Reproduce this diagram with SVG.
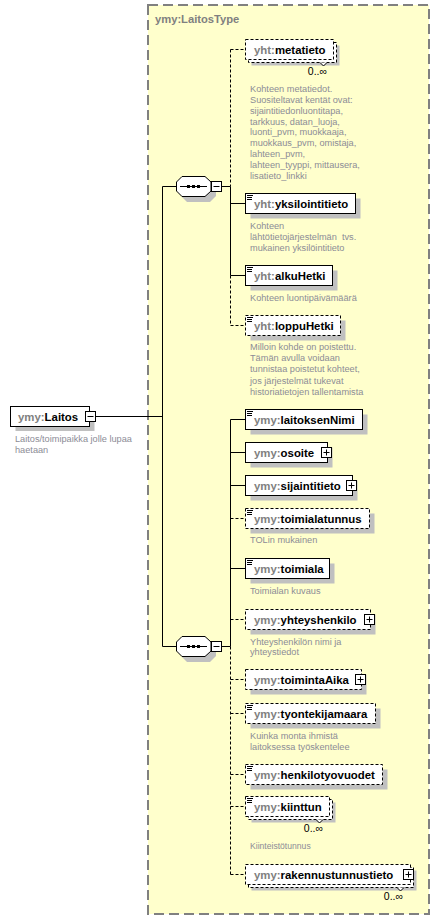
<svg xmlns="http://www.w3.org/2000/svg" width="440" height="921" viewBox="0 0 440 921">
<style>
.bg{fill:#fff}
.frame{fill:#ffffcc;stroke:#808080;stroke-width:2;stroke-dasharray:10,5}
.box{fill:#fff;stroke:#000;stroke-width:1}
.opt{stroke-dasharray:3,2}
.sh{fill:#c0c0c0}
.ln{stroke:#000;stroke-width:1;fill:none}
.dl{stroke:#000;stroke-width:1;fill:none;stroke-dasharray:3,2}
.ico{stroke:#000;stroke-width:1;fill:none}
.nm{font-family:"Liberation Sans",Arial,sans-serif;font-size:11.4px;font-weight:bold;fill:#000}
.pf{fill:#808080}
.ttl{font-family:"Liberation Sans",Arial,sans-serif;font-size:11.2px;font-weight:bold;fill:#808080}
.ann{font-family:"Liberation Sans",Arial,sans-serif;font-size:9.2px;fill:#8c8c96}
.occ{font-family:"Liberation Sans",Arial,sans-serif;font-size:10.5px;fill:#000;text-anchor:end}
</style>
<rect class="bg" x="0" y="0" width="440" height="921"/>
<g id="LaitosType">
<rect class="frame" x="148" y="5" width="281" height="909"/>
<text class="ttl" x="155" y="23">ymy:LaitosType</text>
</g>
<g id="connectors">
<path class="ln" d="M95.5 416.5H162.5M162.5 186.5V646.5M162.5 186.5H176M162.5 646.5H176M221.5 186.5H230.5M221.5 646.5H230.5"/>
<path class="dl" d="M230.5 49.5V186.5M230.5 275.5V325.5"/>
<path class="ln" d="M230.5 186.5V275.5"/>
<path class="dl" d="M230.5 49.5H245.5M230.5 325.5H245.5"/>
<path class="ln" d="M230.5 203.5H245.5M230.5 275.5H245.5"/>
<path class="ln" d="M230.5 419.5V646.5"/>
<path class="dl" d="M230.5 646.5V874.5"/>
<path class="ln" d="M230.5 419.5H245.5M230.5 452.5H245.5M230.5 485.5H245.5M230.5 568.5H245.5"/>
<path class="dl" d="M230.5 518.5H245.5M230.5 619.5H245.5M230.5 679.5H245.5M230.5 713.5H245.5M230.5 774.5H245.5M230.5 806.5H245.5M230.5 874.5H245.5"/>
</g>
<g id="Laitos">
<rect class="sh" x="15.5" y="411" width="79" height="20"/>
<rect class="box" x="10.5" y="406.5" width="79" height="20"/>
<text class="nm" x="18" y="420.5"><tspan class="pf">ymy:</tspan>Laitos</text>
<rect class="box" x="85.5" y="411.5" width="10" height="10"/>
<path class="ln" d="M87.5 416.5H93.5"/>
<text class="ann" x="15" y="442">Laitos/toimipaikka jolle lupaa</text>
<text class="ann" x="15" y="453">haetaan</text>
</g>
<g id="sequence1">
<polygon class="sh" points="187,181 210,181 216,187 216,196 210,202 187,202 181,196 181,187"/>
<polygon class="box" points="182,176.5 205,176.5 211,182 211,191 205,196.5 182,196.5 176.5,191 176.5,182"/>
<path class="ln" d="M180 186.5H207"/>
<rect x="187" y="185" width="3" height="3" fill="#000"/>
<rect x="192" y="185" width="3" height="3" fill="#000"/>
<rect x="197" y="185" width="3" height="3" fill="#000"/>
<rect class="box" x="211.5" y="181.5" width="10" height="10"/>
<path class="ln" d="M213.5 186.5H219.5"/>
</g>
<g id="sequence2">
<polygon class="sh" points="187,641 210,641 216,647 216,656 210,662 187,662 181,656 181,647"/>
<polygon class="box" points="182,636.5 205,636.5 211,642 211,651 205,656.5 182,656.5 176.5,651 176.5,642"/>
<path class="ln" d="M180 646.5H207"/>
<rect x="187" y="645" width="3" height="3" fill="#000"/>
<rect x="192" y="645" width="3" height="3" fill="#000"/>
<rect x="197" y="645" width="3" height="3" fill="#000"/>
<rect class="box" x="211.5" y="641.5" width="10" height="10"/>
<path class="ln" d="M213.5 646.5H219.5"/>
</g>
<g id="metatieto">
<rect class="sh" x="251.5" y="45.5" width="88" height="20"/>
<rect class="box opt" x="248.5" y="42.5" width="88" height="20"/>
<rect class="box opt" x="245.5" y="39.5" width="88" height="20"/>
<text class="nm" x="254" y="53.5"><tspan class="pf">yht:</tspan>metatieto</text>
<polyline class="box" points="320,62.5 323.5,66 327,62.5"/>
<text class="occ" x="327" y="75">0..∞</text>
<text class="ann" x="250" y="92">Kohteen metatiedot.</text>
<text class="ann" x="250" y="102.9">Suositeltavat kentät ovat:</text>
<text class="ann" x="250" y="113.7">sijaintitiedonluontitapa,</text>
<text class="ann" x="250" y="124.6">tarkkuus, datan_luoja,</text>
<text class="ann" x="250" y="135.4">luonti_pvm, muokkaaja,</text>
<text class="ann" x="250" y="146.3">muokkaus_pvm, omistaja,</text>
<text class="ann" x="250" y="157.1">lahteen_pvm,</text>
<text class="ann" x="250" y="168">lahteen_tyyppi, mittausera,</text>
<text class="ann" x="250" y="178.8">lisatieto_linkki</text>
</g>
<g id="yksilointitieto">
<rect class="sh" x="250.5" y="198.5" width="110" height="20"/>
<rect class="box" x="245.5" y="193.5" width="110" height="20"/>
<path class="ico" d="M247 195.5h6M247 197.5h5M247 199.5h5"/>
<text class="nm" x="254" y="207.5"><tspan class="pf">yht:</tspan>yksilointitieto</text>
<text class="ann" x="250" y="229">Kohteen</text>
<text class="ann" x="250" y="240" xml:space="preserve">lähtötietojärjestelmän  tvs.</text>
<text class="ann" x="250" y="251">mukainen yksilöintitieto</text>
</g>
<g id="alkuHetki">
<rect class="sh" x="250.5" y="270.5" width="87" height="20"/>
<rect class="box" x="245.5" y="265.5" width="87" height="20"/>
<path class="ico" d="M247 267.5h6M247 269.5h5M247 271.5h5"/>
<text class="nm" x="254" y="279.5"><tspan class="pf">yht:</tspan>alkuHetki</text>
<text class="ann" x="250" y="301">Kohteen luontipäivämäärä</text>
</g>
<g id="loppuHetki">
<rect class="sh" x="250.5" y="320.5" width="95" height="20"/>
<rect class="box opt" x="245.5" y="315.5" width="95" height="20"/>
<path class="ico" d="M247 317.5h6M247 319.5h5M247 321.5h5"/>
<text class="nm" x="254" y="329.5"><tspan class="pf">yht:</tspan>loppuHetki</text>
<text class="ann" x="250" y="350">Milloin kohde on poistettu.</text>
<text class="ann" x="250" y="361.2">Tämän avulla voidaan</text>
<text class="ann" x="250" y="372.4">tunnistaa poistetut kohteet,</text>
<text class="ann" x="250" y="383.6">jos järjestelmät tukevat</text>
<text class="ann" x="250" y="394.8">historiatietojen tallentamista</text>
</g>
<g id="laitoksenNimi">
<rect class="sh" x="250.5" y="414.5" width="117" height="20"/>
<rect class="box" x="245.5" y="409.5" width="117" height="20"/>
<path class="ico" d="M247 411.5h6M247 413.5h5M247 415.5h5"/>
<text class="nm" x="254" y="423.5"><tspan class="pf">ymy:</tspan>laitoksenNimi</text>
</g>
<g id="osoite">
<rect class="sh" x="250.5" y="447.5" width="82" height="20"/>
<rect class="box" x="245.5" y="442.5" width="82" height="20"/>
<text class="nm" x="254" y="456.5"><tspan class="pf">ymy:</tspan>osoite</text>
<rect class="box" x="321.5" y="447.5" width="10" height="10"/>
<path class="ln" d="M323.5 452.5h6M326.5 449.5v6"/>
</g>
<g id="sijaintitieto">
<rect class="sh" x="250.5" y="480.5" width="107" height="20"/>
<rect class="box" x="245.5" y="475.5" width="107" height="20"/>
<text class="nm" x="254" y="489.5"><tspan class="pf">ymy:</tspan>sijaintitieto</text>
<rect class="box" x="346.5" y="480.5" width="10" height="10"/>
<path class="ln" d="M348.5 485.5h6M351.5 482.5v6"/>
</g>
<g id="toimialatunnus">
<rect class="sh" x="250.5" y="513.5" width="124" height="20"/>
<rect class="box opt" x="245.5" y="508.5" width="124" height="20"/>
<path class="ico" d="M247 510.5h6M247 512.5h5M247 514.5h5"/>
<text class="nm" x="254" y="522.5"><tspan class="pf">ymy:</tspan>toimialatunnus</text>
<text class="ann" x="250" y="543">TOLin mukainen</text>
</g>
<g id="toimiala">
<rect class="sh" x="250.5" y="563.5" width="84" height="20"/>
<rect class="box" x="245.5" y="558.5" width="84" height="20"/>
<path class="ico" d="M247 560.5h6M247 562.5h5M247 564.5h5"/>
<text class="nm" x="254" y="572.5"><tspan class="pf">ymy:</tspan>toimiala</text>
<text class="ann" x="250" y="594">Toimialan kuvaus</text>
</g>
<g id="yhteyshenkilo">
<rect class="sh" x="250.5" y="614.5" width="125" height="20"/>
<rect class="box opt" x="245.5" y="609.5" width="125" height="20"/>
<text class="nm" x="254" y="623.5"><tspan class="pf">ymy:</tspan>yhteyshenkilo</text>
<rect class="box" x="364.5" y="614.5" width="10" height="10"/>
<path class="ln" d="M366.5 619.5h6M369.5 616.5v6"/>
<text class="ann" x="250" y="644.5">Yhteyshenkilön nimi ja</text>
<text class="ann" x="250" y="655">yhteystiedot</text>
</g>
<g id="toimintaAika">
<rect class="sh" x="250.5" y="674.5" width="116" height="20"/>
<rect class="box opt" x="245.5" y="669.5" width="116" height="20"/>
<text class="nm" x="254" y="683.5"><tspan class="pf">ymy:</tspan>toimintaAika</text>
<rect class="box" x="355.5" y="674.5" width="10" height="10"/>
<path class="ln" d="M357.5 679.5h6M360.5 676.5v6"/>
</g>
<g id="tyontekijamaara">
<rect class="sh" x="250.5" y="708.5" width="130" height="20"/>
<rect class="box opt" x="245.5" y="703.5" width="130" height="20"/>
<path class="ico" d="M247 705.5h6M247 707.5h5M247 709.5h5"/>
<text class="nm" x="254" y="717.5"><tspan class="pf">ymy:</tspan>tyontekijamaara</text>
<text class="ann" x="250" y="739">Kuinka monta ihmistä</text>
<text class="ann" x="250" y="749.5">laitoksessa työskentelee</text>
</g>
<g id="henkilotyovuodet">
<rect class="sh" x="250.5" y="769.5" width="137" height="20"/>
<rect class="box opt" x="245.5" y="764.5" width="137" height="20"/>
<path class="ico" d="M247 766.5h6M247 768.5h5M247 770.5h5"/>
<text class="nm" x="254" y="778.5"><tspan class="pf">ymy:</tspan>henkilotyovuodet</text>
</g>
<g id="kiinttun">
<rect class="sh" x="251.5" y="802.5" width="84" height="20"/>
<rect class="box opt" x="248.5" y="799.5" width="84" height="20"/>
<rect class="box opt" x="245.5" y="796.5" width="84" height="20"/>
<path class="ico" d="M247 798.5h6M247 800.5h5M247 802.5h5"/>
<text class="nm" x="254" y="810.5"><tspan class="pf">ymy:</tspan>kiinttun</text>
<polyline class="box" points="316,819.5 319.5,823 323,819.5"/>
<text class="occ" x="323" y="832">0..∞</text>
<text class="ann" x="250" y="849" style="font-size:8.6px">Kiinteistötunnus</text>
</g>
<g id="rakennustunnustieto">
<rect class="sh" x="251.5" y="870.5" width="165" height="20"/>
<rect class="box opt" x="248.5" y="867.5" width="165" height="20"/>
<rect class="box opt" x="245.5" y="864.5" width="165" height="20"/>
<text class="nm" x="254" y="878.5"><tspan class="pf">ymy:</tspan>rakennustunnustieto</text>
<rect class="box" x="403.5" y="869.5" width="10" height="10"/>
<path class="ln" d="M405.5 874.5h6M408.5 871.5v6"/>
<polyline class="box" points="397,887.5 400.5,891 404,887.5"/>
<text class="occ" x="403" y="900">0..∞</text>
</g>
</svg>
